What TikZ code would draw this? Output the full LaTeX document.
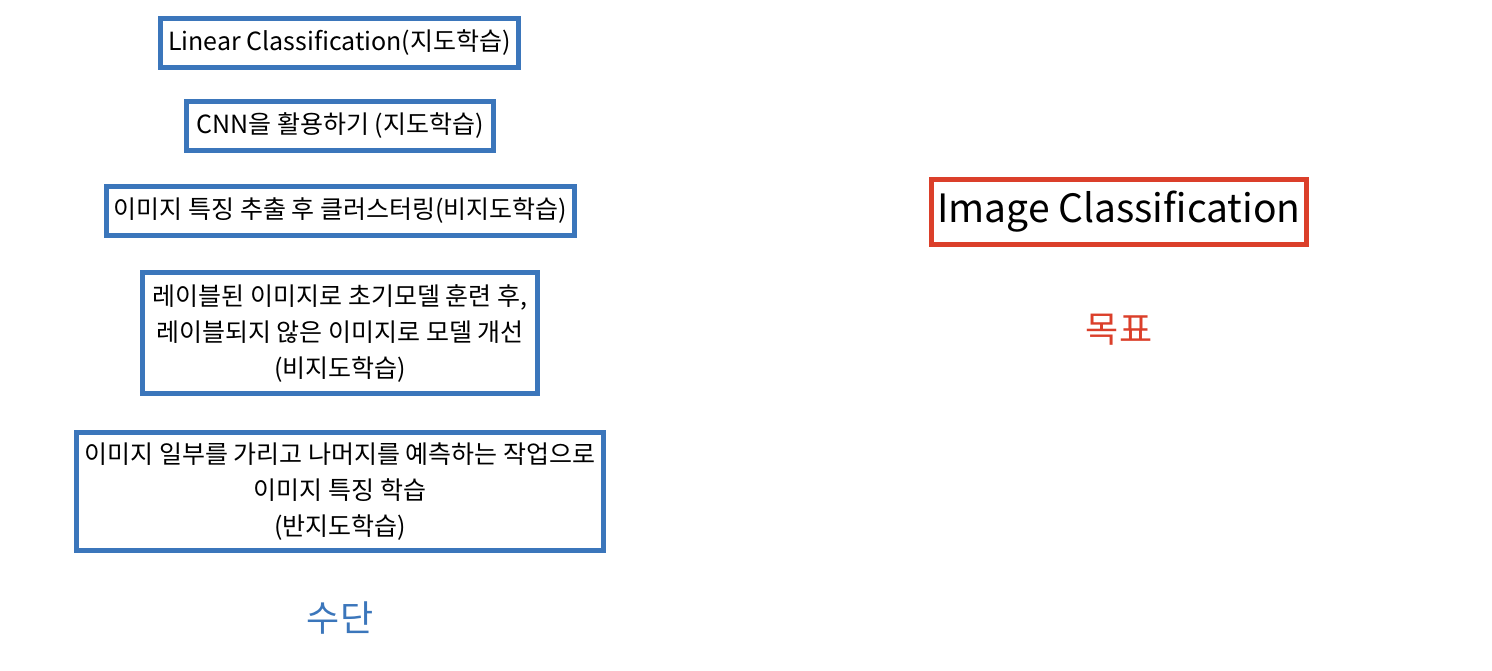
\documentclass[tikz,border=0pt]{standalone}
\usepackage{fontspec}
\setmainfont{Noto Sans CJK KR}
\definecolor{boxblue}{HTML}{3B76BB}
\definecolor{boxred}{HTML}{DB3F2A}
\begin{document}
\begin{tikzpicture}[x=1pt,y=-1pt,
  mbox/.style={draw=boxblue,line width=5.5pt,inner sep=0pt,align=center,
    font=\fontsize{25}{36}\selectfont},
  gbox/.style={draw=boxred,line width=5.5pt,inner sep=0pt,align=center,
    font=\fontsize{39}{40}\selectfont}]
\useasboundingbox[fill=white] (0,0) rectangle (1492,670);
\node[mbox,minimum width=358pt,minimum height=49pt] (b1) at (339.5,43) {Linear Classification(지도학습)};
\node[mbox,minimum width=307pt,minimum height=49pt] (b2) at (340,126) {CNN을 활용하기 (지도학습)};
\node[mbox,minimum width=468pt,minimum height=49pt] (b3) at (340.5,211) {이미지 특징 추출 후 클러스터링(비지도학습)};
\node[mbox,minimum width=395pt,minimum height=121pt] (b4) at (340,333) {레이블된 이미지로 초기모델 훈련 후,\\레이블되지 않은 이미지로 모델 개선\\(비지도학습)};
\node[mbox,minimum width=527pt,minimum height=118pt] (b5) at (340,491.5) {이미지 일부를 가리고 나머지를 예측하는 작업으로\\이미지 특징 학습\\(반지도학습)};
\node[text=boxblue,font=\fontsize{36}{40}\selectfont] (means) at (340,618) {수단};
\node[gbox,minimum width=375pt,minimum height=65pt] (goal) at (1119,212) {Image Classification};
\node[text=boxred,font=\fontsize{36}{40}\selectfont] (goallab) at (1119,330) {목표};
\end{tikzpicture}
\end{document}
